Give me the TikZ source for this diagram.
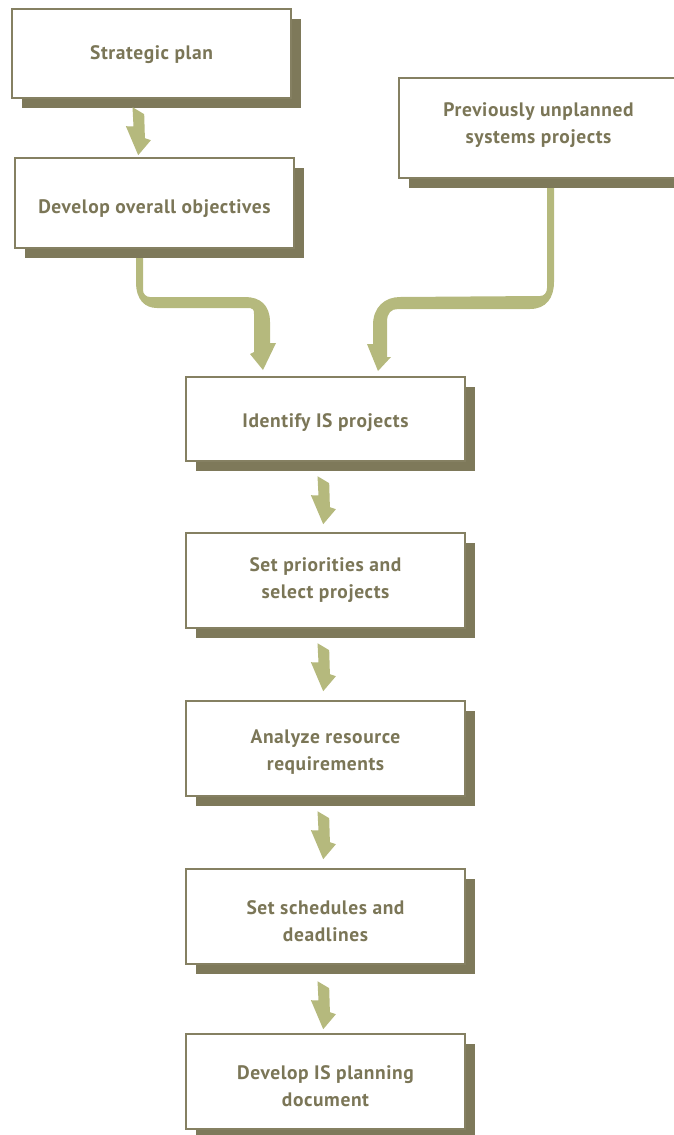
\documentclass[tikz,border=0pt]{standalone}
\usepackage{fontspec}
\setmainfont{PT Sans}[LetterSpace=3]
\usetikzlibrary{shadows,calc}
\definecolor{boxc}{HTML}{858062}
\definecolor{shadowc}{HTML}{7E795A}
\definecolor{arrowc}{HTML}{B5B97D}
\definecolor{textc}{HTML}{7B7657}
\begin{document}
\begin{tikzpicture}[x=1pt,y=-1pt,
  box/.style={draw=boxc, line width=1.6pt, fill=white, minimum width=279pt,
    inner sep=0pt,
    drop shadow={shadow xshift=10pt, shadow yshift=-10pt, fill=shadowc, opacity=1}},
  lab/.style={align=center, text=textc, inner sep=0pt,
    font=\fontsize{19.5}{27}\selectfont\bfseries},
  flow/.style={fill=arrowc, draw=none},
  smallarrow/.pic={\fill[arrowc] (-5.7,-48) -- (6,-41) -- (6.7,-17) -- (12.7,-15) -- (0,0) -- (-12.3,-29) -- (-4.7,-28.7) -- cycle;}]
\useasboundingbox (0,0) rectangle (673,1135);
% big connectors
\fill[flow] (136,257) -- (136,282) .. controls (136,300) and (145,308) .. (157,308)
  -- (250,308) .. controls (253,308) and (254,310) .. (254,314)
  -- (254,352) -- (250,354) -- (263,370) -- (276,343) -- (270,343)
  -- (270,322) .. controls (270,305) and (260,297) .. (245,297)
  -- (150,297) .. controls (146,297) and (143,294) .. (143,290) -- (143,257) -- cycle;
\fill[flow] (547,188) -- (547,288) .. controls (547,293) and (544,296) .. (540,296)
  -- (400,297) .. controls (385,297) and (373,307) .. (373,325)
  -- (373,344) -- (367,344) -- (378,371) -- (391,357) -- (387,357)
  -- (387,322) .. controls (387,313) and (391,309) .. (398,309)
  -- (530,309) .. controls (546,309) and (554,298) .. (554,282) -- (554,188) -- cycle;
% boxes
\node[box, minimum height=89pt, label={[lab, yshift=-1pt]center:Strategic plan}] (n1) at (151.5,53.5) {};
\node[box, minimum height=90pt, label={[lab, yshift=-6pt]center:Develop overall objectives}] (n2) at (154.5,203) {};
\node[box, minimum height=100pt, label={[lab, yshift=3pt]center:Previously unplanned\\systems projects}] (n3) at (538.5,128) {};
\node[box, minimum height=84pt, label={[lab, yshift=-4pt]center:Identify IS projects}] (n4) at (325.5,419) {};
\node[box, minimum height=95pt, label={[lab]center:Set priorities and\\select projects}] (n5) at (325.5,580.5) {};
\node[box, minimum height=95pt, label={[lab, yshift=-4pt]center:Analyze resource\\requirements}] (n6) at (325.5,748.5) {};
\node[box, minimum height=95pt, label={[lab, yshift=-5pt]center:Set schedules and\\deadlines}] (n7) at (325.5,916.5) {};
\node[box, minimum height=95pt, label={[lab, yshift=-5pt]center:Develop IS planning\\document}] (n8) at (325.5,1081.5) {};
% small arrows
\pic at ($(n2.north west)+(124,-2)$) {smallarrow};
\pic at ($(n5.north west)+(138,-8)$) {smallarrow};
\pic at ($(n6.north west)+(138,-9)$) {smallarrow};
\pic at ($(n7.north west)+(138,-9)$) {smallarrow};
\pic at ($(n8.north west)+(138,-4)$) {smallarrow};
\end{tikzpicture}
\end{document}
